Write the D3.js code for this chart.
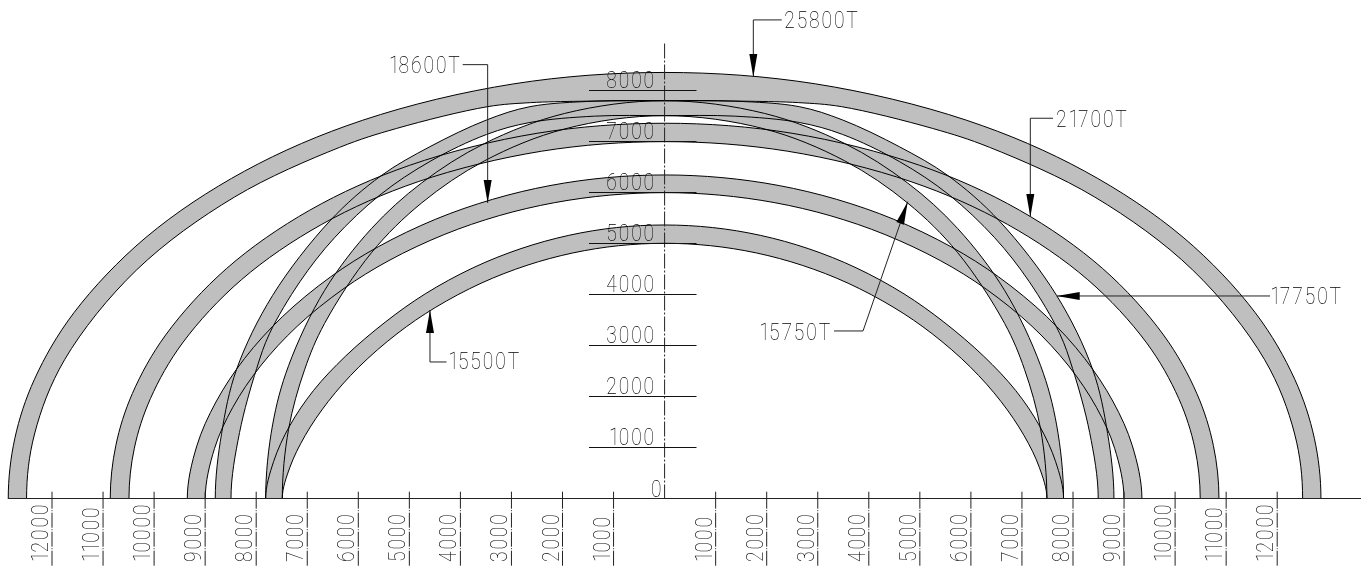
<!DOCTYPE html>
<html><head><meta charset="utf-8">
<script src="https://cdn.jsdelivr.net/npm/d3@7"></script>
<style>html,body{margin:0;padding:0;background:#fff;overflow:hidden}svg{display:block;filter:grayscale(1)}
text{font-family:Roboto,"Liberation Sans",sans-serif;font-weight:100;fill:#000}</style>
</head><body><svg id="c" width="1368" height="569"></svg>
<script>
// half-profiles: span from centre line (mm) and height (mm)
const band25800OuterX=[0,2957,5914,8228,10157,11571,12343,12728,12857];
const band25800OuterH=[8354,8130,7417,6419,5122,3642,2339,1179,0];
const band25800InnerX=[0,1646,2625,3467,5250,6367,8424,10344,11754,12342,12498];
const band25800InnerH=[7799,7789,7762,7683,7256,6885,5912,4481,2720,1265,0];
const band21700OuterX=[0,2498,4995,6950,8579,9773,10425,10750,10859];
const band21700OuterH=[7358,7161,6533,5654,4511,3207,2060,1038,0];
const band21700InnerX=[0,2413,4826,6715,8289,9443,10072,10387,10492];
const band21700InnerH=[6997,6809,6213,5376,4290,3050,1959,987,0];
const band18600OuterX=[0,1122,2244,3366,4488,5610,6545,7480,8228,8789,9163,9350];
const band18600OuterH=[6344,6292,6136,5867,5475,4936,4344,3571,2746,1892,1032,0];
const band18600InnerX=[0,1080,2160,3239,4319,5399,6299,7198,7918,8458,8818,8998];
const band18600InnerH=[5997,5948,5800,5547,5175,4666,4106,3376,2595,1789,976,0];
const band17750OuterX=[0,1371,2637,3487,4596,5558,6555,7679,8385,8678,8802];
const band17750OuterH=[7801,7791,7683,7422,6899,6326,5444,3981,2530,1275,0];
const band17750InnerX=[0,1371,2637,3487,4596,5575,6465,7143,7738,7991,8326,8494];
const band17750InnerH=[7507,7497,7373,7138,6609,5952,5114,4251,3236,2549,1294,0];
const band15750OuterX=[0,1959,3526,4760,5740,6661,7366,7679,7815];
const band15750OuterH=[7801,7550,6962,6187,5295,4079,2604,1443,0];
const band15750InnerX=[0,1959,3526,4760,5740,6661,7052,7366,7489];
const band15750InnerH=[7507,7246,6622,5795,4822,3432,2526,1357,0];
const band15500OuterX=[0,938,1876,2813,3751,4689,5471,6252,6877,7346,7659,7815];
const band15500OuterH=[5363,5313,5160,4900,4524,4013,3459,2789,2118,1421,724,0];
const band15500InnerX=[0,899,1797,2696,3595,4493,5242,5991,6590,7040,7339,7489];
const band15500InnerH=[5004,4957,4815,4572,4221,3744,3230,2576,1901,1236,614,0];

const heightTicks=[1000,2000,3000,4000,5000,6000,7000,8000];
const spanTicks=[1000,2000,3000,4000,5000,6000,7000,8000,9000,10000,11000,12000];
const calloutLabels=["25800T","18600T","21700T","17750T","15750T","15500T"];
const calloutX=[[2294,1738,1738],[-3955,-3466,-3466],[7609,7164,7164],[11860,7681],[3319,3887,4762],[-4272,-4596,-4596]];
const calloutH=[[9384,9384,8266],[8507,8507,5795],[7456,7456,5520],[3971,3971],[3285,3285,5820],[2677,2677,3696]];

const bands=[
 [band25800OuterX,band25800OuterH,band25800InnerX,band25800InnerH],
 [band21700OuterX,band21700OuterH,band21700InnerX,band21700InnerH],
 [band18600OuterX,band18600OuterH,band18600InnerX,band18600InnerH],
 [band17750OuterX,band17750OuterH,band17750InnerX,band17750InnerH],
 [band15750OuterX,band15750OuterH,band15750InnerX,band15750InnerH],
 [band15500OuterX,band15500OuterH,band15500InnerX,band15500InnerH]];

const W=1368,H=569;
const x=d3.scaleLinear().domain([-13000,13000]).range([664.6-663.65,664.6+663.65]);
const y=d3.scaleLinear().domain([0,8000]).range([498.5,90.5]);
const svg=d3.select("#c");
const line=d3.line().x(d=>x(d[0])).y(d=>y(d[1])).curve(d3.curveCatmullRom.alpha(0.5));

svg.append("defs").append("clipPath").attr("id","above").append("rect")
  .attr("x",0).attr("y",0).attr("width",W).attr("height",y(0)+0.5);

// the curve is continued below the base line (and clipped) so the feet rise vertically
function full(xs,hs){
  const right=xs.map((v,i)=>[v,hs[i]]);
  const n=right.length;
  right.push([right[n-2][0],-right[n-2][1]]);
  const left=right.slice(1).reverse().map(d=>[-d[0],d[1]]);
  return left.concat(right);
}
const shapes=bands.map(b=>{
  const o=line(full(b[0],b[1]));
  const i=line(full(b[2],b[3]).reverse());
  return o+"L"+i.slice(1)+"Z";
});
const arch=svg.append("g").attr("clip-path","url(#above)");
arch.append("g").selectAll("path").data(shapes).join("path").attr("d",d=>d).attr("fill","#bfbfbf");
arch.append("g").selectAll("path").data(shapes).join("path").attr("d",d=>d)
  .attr("fill","none").attr("stroke","#000").attr("stroke-width",1);

// narrow CAD-like lettering: Roboto squeezed sideways, with the wide tabular "1" tightened
const SX=0.8, LS=2.4;
function label(s,px,py,rot,anchor){
  const dx=[...s].map((c,i)=>i>0&&s[i-1]==="1"?-3.5:0).join(" ");
  return svg.append("text").text(s).attr("font-size",24).attr("letter-spacing",LS)
    .attr("dx",dx).attr("text-anchor",anchor||"start")
    .attr("transform",`translate(${px},${py}) rotate(${rot||0}) scale(${SX},1)`);
}

// base line and centre line
const base=svg.append("g").attr("stroke","#222").attr("stroke-width",1);
base.append("line").attr("x1",8.3).attr("x2",1361).attr("y1",y(0)).attr("y2",y(0));
base.append("line").attr("x1",x(0)).attr("x2",x(0)).attr("y1",43.5).attr("y2",y(0))
  .attr("stroke-dasharray","15,2,2,2");

// height ticks
svg.append("g").selectAll("line").data(heightTicks).join("line")
  .attr("x1",589).attr("x2",696.5).attr("y1",d=>y(d)).attr("y2",d=>y(d)).attr("stroke","#111");
heightTicks.forEach(d=>label(String(d),656,y(d)-2.5,0,"end"));
label("0",663.5,y(0)-2,0,"end");

// span ticks on both sides
const signed=spanTicks.flatMap(v=>[-v,v]);
svg.append("g").selectAll("line").data(signed).join("line")
  .attr("x1",d=>x(d)).attr("x2",d=>x(d)).attr("y1",491.7).attr("y2",566)
  .attr("stroke","#222").attr("stroke-dasharray","17,1.5,1,1.5,15,1.5,1,1.5,15,1.5,1,1.5,15");
signed.forEach(d=>label(String(Math.abs(d)),x(d)-4,562,-90));

// callouts
const leader=d3.line().x(d=>x(d[0])).y(d=>y(d[1]));
const anchors=[["start",2.5],["end",-1],["start",3],["start",0.2],["end",-2],["start",1.8]];
const baseOff=[8,8.5,8.7,8.5,9,7.5];
calloutLabels.forEach((t,k)=>{
  const pts=calloutX[k].map((v,i)=>[v,calloutH[k][i]]);
  svg.append("path").attr("d",leader(pts)).attr("fill","none").attr("stroke","#222");
  const a=pts[pts.length-2],b=pts[pts.length-1];
  const ax=x(a[0]),ay=y(a[1]),bx=x(b[0]),by=y(b[1]);
  const L=Math.hypot(bx-ax,by-ay),ux=(bx-ax)/L,uy=(by-ay)/L;
  const hl=23,hw=4;
  svg.append("path").attr("fill","#000").attr("d",d3.line()([
    [bx,by],[bx-ux*hl-uy*hw,by-uy*hl+ux*hw],[bx-ux*hl+uy*hw,by-uy*hl-ux*hw]])+"Z");
  label(t,x(pts[0][0])+anchors[k][1],y(pts[0][1])+baseOff[k],0,anchors[k][0]);
});
</script></body></html>
